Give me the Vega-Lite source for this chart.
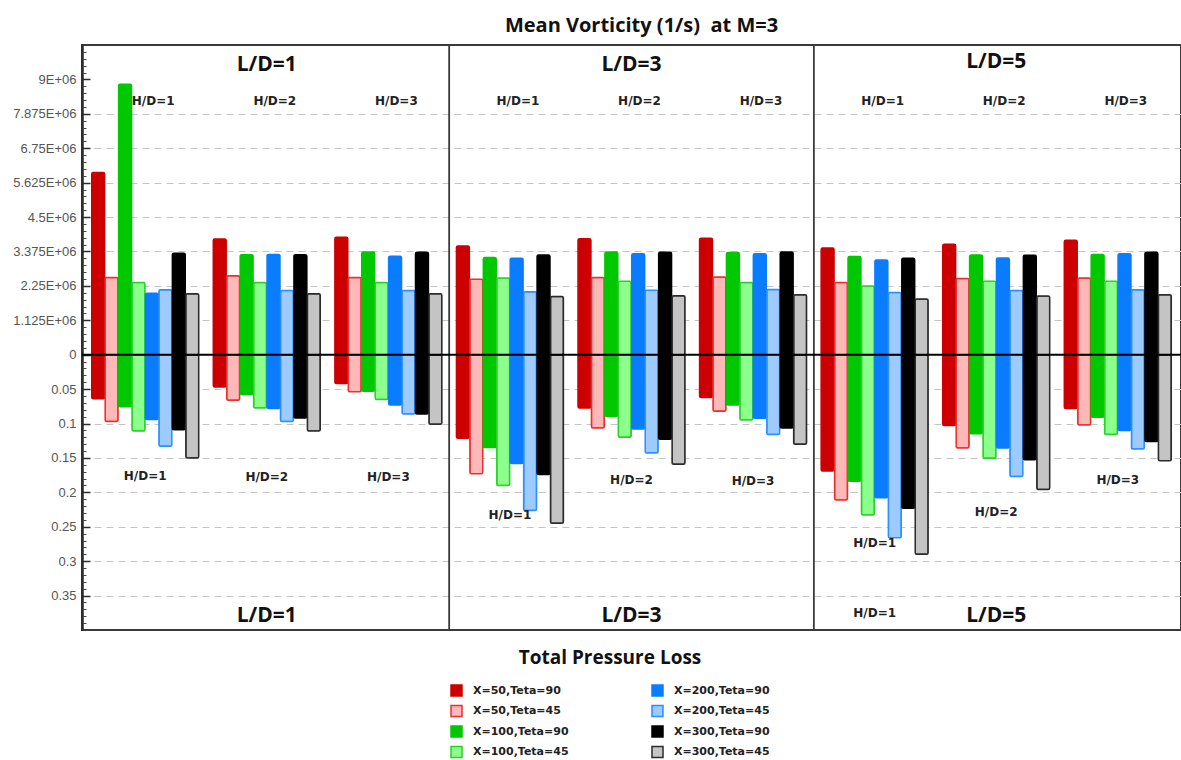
{
  "$schema": "https://vega.github.io/schema/vega-lite/v6.json",
  "autosize": {"type": "none"},
  "width": 1099,
  "height": 585,
  "padding": {"left": 82, "top": 45, "right": 0, "bottom": 130},
  "background": "white",
  "config": {
    "view": {"stroke": "#3a3a3a", "strokeWidth": 2},
    "font": "Liberation Sans"
  },
  "title": {
    "text": "Mean Vorticity (1/s)\u00a0 at M=3",
    "font": "Open Sans", "fontSize": 20, "fontWeight": "bold", "color": "#111",
    "anchor": "middle", "frame": "group", "dx": 10, "offset": 8
  },
  "datasets": {
    "bars": [
      {"grp": "L/D=1 H/D=1", "series": "X=50,Teta=90", "vort": 5960000, "loss": 0.064},
      {"grp": "L/D=1 H/D=1", "series": "X=50,Teta=45", "vort": 2520000, "loss": 0.097},
      {"grp": "L/D=1 H/D=1", "series": "X=100,Teta=90", "vort": 8840000, "loss": 0.0755},
      {"grp": "L/D=1 H/D=1", "series": "X=100,Teta=45", "vort": 2360000, "loss": 0.111},
      {"grp": "L/D=1 H/D=1", "series": "X=200,Teta=90", "vort": 2010000, "loss": 0.094},
      {"grp": "L/D=1 H/D=1", "series": "X=200,Teta=45", "vort": 2120000, "loss": 0.133},
      {"grp": "L/D=1 H/D=1", "series": "X=300,Teta=90", "vort": 3320000, "loss": 0.109},
      {"grp": "L/D=1 H/D=1", "series": "X=300,Teta=45", "vort": 1990000, "loss": 0.150},

      {"grp": "L/D=1 H/D=2", "series": "X=50,Teta=90", "vort": 3780000, "loss": 0.047},
      {"grp": "L/D=1 H/D=2", "series": "X=50,Teta=45", "vort": 2580000, "loss": 0.066},
      {"grp": "L/D=1 H/D=2", "series": "X=100,Teta=90", "vort": 3270000, "loss": 0.058},
      {"grp": "L/D=1 H/D=2", "series": "X=100,Teta=45", "vort": 2360000, "loss": 0.0775},
      {"grp": "L/D=1 H/D=2", "series": "X=200,Teta=90", "vort": 3280000, "loss": 0.078},
      {"grp": "L/D=1 H/D=2", "series": "X=200,Teta=45", "vort": 2100000, "loss": 0.097},
      {"grp": "L/D=1 H/D=2", "series": "X=300,Teta=90", "vort": 3270000, "loss": 0.092},
      {"grp": "L/D=1 H/D=2", "series": "X=300,Teta=45", "vort": 1990000, "loss": 0.111},

      {"grp": "L/D=1 H/D=3", "series": "X=50,Teta=90", "vort": 3840000, "loss": 0.042},
      {"grp": "L/D=1 H/D=3", "series": "X=50,Teta=45", "vort": 2520000, "loss": 0.054},
      {"grp": "L/D=1 H/D=3", "series": "X=100,Teta=90", "vort": 3360000, "loss": 0.053},
      {"grp": "L/D=1 H/D=3", "series": "X=100,Teta=45", "vort": 2360000, "loss": 0.065},
      {"grp": "L/D=1 H/D=3", "series": "X=200,Teta=90", "vort": 3220000, "loss": 0.073},
      {"grp": "L/D=1 H/D=3", "series": "X=200,Teta=45", "vort": 2100000, "loss": 0.086},
      {"grp": "L/D=1 H/D=3", "series": "X=300,Teta=90", "vort": 3350000, "loss": 0.086},
      {"grp": "L/D=1 H/D=3", "series": "X=300,Teta=45", "vort": 1990000, "loss": 0.101},

      {"grp": "L/D=3 H/D=1", "series": "X=50,Teta=90", "vort": 3550000, "loss": 0.1215},
      {"grp": "L/D=3 H/D=1", "series": "X=50,Teta=45", "vort": 2470000, "loss": 0.173},
      {"grp": "L/D=3 H/D=1", "series": "X=100,Teta=90", "vort": 3180000, "loss": 0.135},
      {"grp": "L/D=3 H/D=1", "series": "X=100,Teta=45", "vort": 2510000, "loss": 0.190},
      {"grp": "L/D=3 H/D=1", "series": "X=200,Teta=90", "vort": 3150000, "loss": 0.158},
      {"grp": "L/D=3 H/D=1", "series": "X=200,Teta=45", "vort": 2060000, "loss": 0.2265},
      {"grp": "L/D=3 H/D=1", "series": "X=300,Teta=90", "vort": 3260000, "loss": 0.174},
      {"grp": "L/D=3 H/D=1", "series": "X=300,Teta=45", "vort": 1900000, "loss": 0.245},

      {"grp": "L/D=3 H/D=2", "series": "X=50,Teta=90", "vort": 3790000, "loss": 0.0775},
      {"grp": "L/D=3 H/D=2", "series": "X=50,Teta=45", "vort": 2520000, "loss": 0.1065},
      {"grp": "L/D=3 H/D=2", "series": "X=100,Teta=90", "vort": 3360000, "loss": 0.0896},
      {"grp": "L/D=3 H/D=2", "series": "X=100,Teta=45", "vort": 2400000, "loss": 0.120},
      {"grp": "L/D=3 H/D=2", "series": "X=200,Teta=90", "vort": 3300000, "loss": 0.108},
      {"grp": "L/D=3 H/D=2", "series": "X=200,Teta=45", "vort": 2110000, "loss": 0.143},
      {"grp": "L/D=3 H/D=2", "series": "X=300,Teta=90", "vort": 3350000, "loss": 0.123},
      {"grp": "L/D=3 H/D=2", "series": "X=300,Teta=45", "vort": 1930000, "loss": 0.159},

      {"grp": "L/D=3 H/D=3", "series": "X=50,Teta=90", "vort": 3810000, "loss": 0.062},
      {"grp": "L/D=3 H/D=3", "series": "X=50,Teta=45", "vort": 2540000, "loss": 0.082},
      {"grp": "L/D=3 H/D=3", "series": "X=100,Teta=90", "vort": 3340000, "loss": 0.073},
      {"grp": "L/D=3 H/D=3", "series": "X=100,Teta=45", "vort": 2360000, "loss": 0.095},
      {"grp": "L/D=3 H/D=3", "series": "X=200,Teta=90", "vort": 3300000, "loss": 0.0925},
      {"grp": "L/D=3 H/D=3", "series": "X=200,Teta=45", "vort": 2130000, "loss": 0.116},
      {"grp": "L/D=3 H/D=3", "series": "X=300,Teta=90", "vort": 3360000, "loss": 0.1065},
      {"grp": "L/D=3 H/D=3", "series": "X=300,Teta=45", "vort": 1960000, "loss": 0.130},

      {"grp": "L/D=5 H/D=1", "series": "X=50,Teta=90", "vort": 3490000, "loss": 0.169},
      {"grp": "L/D=5 H/D=1", "series": "X=50,Teta=45", "vort": 2360000, "loss": 0.211},
      {"grp": "L/D=5 H/D=1", "series": "X=100,Teta=90", "vort": 3210000, "loss": 0.184},
      {"grp": "L/D=5 H/D=1", "series": "X=100,Teta=45", "vort": 2250000, "loss": 0.233},
      {"grp": "L/D=5 H/D=1", "series": "X=200,Teta=90", "vort": 3100000, "loss": 0.208},
      {"grp": "L/D=5 H/D=1", "series": "X=200,Teta=45", "vort": 2030000, "loss": 0.266},
      {"grp": "L/D=5 H/D=1", "series": "X=300,Teta=90", "vort": 3150000, "loss": 0.223},
      {"grp": "L/D=5 H/D=1", "series": "X=300,Teta=45", "vort": 1820000, "loss": 0.290},

      {"grp": "L/D=5 H/D=2", "series": "X=50,Teta=90", "vort": 3610000, "loss": 0.103},
      {"grp": "L/D=5 H/D=2", "series": "X=50,Teta=45", "vort": 2490000, "loss": 0.1355},
      {"grp": "L/D=5 H/D=2", "series": "X=100,Teta=90", "vort": 3260000, "loss": 0.115},
      {"grp": "L/D=5 H/D=2", "series": "X=100,Teta=45", "vort": 2400000, "loss": 0.1505},
      {"grp": "L/D=5 H/D=2", "series": "X=200,Teta=90", "vort": 3160000, "loss": 0.1355},
      {"grp": "L/D=5 H/D=2", "series": "X=200,Teta=45", "vort": 2100000, "loss": 0.177},
      {"grp": "L/D=5 H/D=2", "series": "X=300,Teta=90", "vort": 3250000, "loss": 0.1525},
      {"grp": "L/D=5 H/D=2", "series": "X=300,Teta=45", "vort": 1920000, "loss": 0.196},

      {"grp": "L/D=5 H/D=3", "series": "X=50,Teta=90", "vort": 3740000, "loss": 0.078},
      {"grp": "L/D=5 H/D=3", "series": "X=50,Teta=45", "vort": 2510000, "loss": 0.102},
      {"grp": "L/D=5 H/D=3", "series": "X=100,Teta=90", "vort": 3280000, "loss": 0.091},
      {"grp": "L/D=5 H/D=3", "series": "X=100,Teta=45", "vort": 2400000, "loss": 0.116},
      {"grp": "L/D=5 H/D=3", "series": "X=200,Teta=90", "vort": 3300000, "loss": 0.110},
      {"grp": "L/D=5 H/D=3", "series": "X=200,Teta=45", "vort": 2120000, "loss": 0.137},
      {"grp": "L/D=5 H/D=3", "series": "X=300,Teta=90", "vort": 3350000, "loss": 0.126},
      {"grp": "L/D=5 H/D=3", "series": "X=300,Teta=45", "vort": 1960000, "loss": 0.154}
    ],
    "upperPanelLabels": [
      {"grp": "L/D=1 H/D=2", "label": "L/D=1", "v": 9460000},
      {"grp": "L/D=3 H/D=2", "label": "L/D=3", "v": 9460000},
      {"grp": "L/D=5 H/D=2", "label": "L/D=5", "v": 9560000}
    ],
    "upperGroupLabels": [
      {"grp": "L/D=1 H/D=1", "label": "H/D=1", "v": 8310000},
      {"grp": "L/D=1 H/D=2", "label": "H/D=2", "v": 8310000},
      {"grp": "L/D=1 H/D=3", "label": "H/D=3", "v": 8310000},
      {"grp": "L/D=3 H/D=1", "label": "H/D=1", "v": 8310000},
      {"grp": "L/D=3 H/D=2", "label": "H/D=2", "v": 8310000},
      {"grp": "L/D=3 H/D=3", "label": "H/D=3", "v": 8310000},
      {"grp": "L/D=5 H/D=1", "label": "H/D=1", "v": 8310000},
      {"grp": "L/D=5 H/D=2", "label": "H/D=2", "v": 8310000},
      {"grp": "L/D=5 H/D=3", "label": "H/D=3", "v": 8310000}
    ],
    "lowerGroupLabels": [
      {"grp": "L/D=1 H/D=1", "label": "H/D=1", "p": 0.176},
      {"grp": "L/D=1 H/D=2", "label": "H/D=2", "p": 0.177},
      {"grp": "L/D=1 H/D=3", "label": "H/D=3", "p": 0.177},
      {"grp": "L/D=3 H/D=1", "label": "H/D=1", "p": 0.233},
      {"grp": "L/D=3 H/D=2", "label": "H/D=2", "p": 0.182},
      {"grp": "L/D=3 H/D=3", "label": "H/D=3", "p": 0.183},
      {"grp": "L/D=5 H/D=1", "label": "H/D=1", "p": 0.273},
      {"grp": "L/D=5 H/D=2", "label": "H/D=2", "p": 0.228},
      {"grp": "L/D=5 H/D=3", "label": "H/D=3", "p": 0.182},
      {"grp": "L/D=5 H/D=1", "label": "H/D=1", "p": 0.375}
    ],
    "lowerPanelLabels": [
      {"grp": "L/D=1 H/D=2", "label": "L/D=1", "p": 0.379},
      {"grp": "L/D=3 H/D=2", "label": "L/D=3", "p": 0.379},
      {"grp": "L/D=5 H/D=2", "label": "L/D=5", "p": 0.379}
    ],
    "panelStarts": [
      {"grp": "L/D=3 H/D=1"},
      {"grp": "L/D=5 H/D=1"}
    ]
  },
  "layer": [
    {
      "layer": [
        {
          "data": {"name": "bars"},
          "mark": {"type": "bar", "strokeWidth": 1.5, "cornerRadius": 1.5},
          "encoding": {
            "x": {
              "field": "grp", "type": "nominal",
              "scale": {
                "domain": ["L/D=1 H/D=1", "L/D=1 H/D=2", "L/D=1 H/D=3", "L/D=3 H/D=1", "L/D=3 H/D=2", "L/D=3 H/D=3", "L/D=5 H/D=1", "L/D=5 H/D=2", "L/D=5 H/D=3"],
                "paddingInner": 0.12, "paddingOuter": 0.08
              },
              "axis": null
            },
            "xOffset": {
              "field": "series", "type": "nominal",
              "scale": {
                "domain": ["X=50,Teta=90", "X=50,Teta=45", "X=100,Teta=90", "X=100,Teta=45", "X=200,Teta=90", "X=200,Teta=45", "X=300,Teta=90", "X=300,Teta=45"],
                "paddingInner": 0.04
              }
            },
            "y": {
              "field": "vort", "type": "quantitative", "title": null,
              "scale": {"domain": [-9000000, 10125000], "nice": false, "zero": false},
              "axis": {
                "orient": "left",
                "values": [0, 1125000, 2250000, 3375000, 4500000, 5625000, 6750000, 7875000, 9000000],
                "labelExpr": "datum.value == 0 ? '0' : format(datum.value / 1000000, '~g') + 'E+06'",
                "grid": true, "gridDash": [7, 5], "gridColor": "#c4c4c4", "gridWidth": 1,
                "gridOpacity": {"condition": {"test": "datum.value >= 9000000 || datum.value == 0", "value": 0}, "value": 1},
                "domain": true, "domainColor": "#2a2a2a", "domainWidth": 2,
                "ticks": true, "tickSize": -8, "tickColor": "#2a2a2a", "tickWidth": 1.5,
                "labelFont": "Liberation Sans", "labelFontSize": 13, "labelColor": "#555",
                "labelPadding": 14
              }
            },
            "fill": {
              "field": "series", "type": "nominal",
              "scale": {
                "domain": ["X=50,Teta=90", "X=50,Teta=45", "X=100,Teta=90", "X=100,Teta=45", "X=200,Teta=90", "X=200,Teta=45", "X=300,Teta=90", "X=300,Teta=45"],
                "range": ["#cc0000", "#ffb8b8", "#00c800", "#8cff8c", "#0a7cff", "#9ecbff", "#000000", "#c4c4c4"]
              },
              "legend": {
                "orient": "none", "legendX": 368, "legendY": 604, "columns": 2,
                "title": "Total Pressure Loss", "titleFont": "Open Sans", "titleFontSize": 19, "titleFontWeight": "bold",
                "titleColor": "#111", "titleAnchor": "middle", "titlePadding": 16, "titleLimit": 400,
                "symbolType": "square", "symbolSize": 121, "symbolStrokeWidth": 1.5, "symbolOpacity": 1,
                "labelFont": "DejaVu Sans", "labelFontWeight": "bold", "labelFontSize": 11, "labelColor": "#222",
                "labelOffset": 10, "labelLimit": 200, "rowPadding": 3.5, "columnPadding": 80
              }
            },
            "stroke": {
              "field": "series", "type": "nominal",
              "scale": {
                "domain": ["X=50,Teta=90", "X=50,Teta=45", "X=100,Teta=90", "X=100,Teta=45", "X=200,Teta=90", "X=200,Teta=45", "X=300,Teta=90", "X=300,Teta=45"],
                "range": ["#cc0000", "#e83030", "#00c800", "#2ccf2c", "#0a7cff", "#2b8fff", "#000000", "#2b2b2b"]
              },
              "legend": {
                "orient": "none", "legendX": 368, "legendY": 604, "columns": 2,
                "title": "Total Pressure Loss", "titleFont": "Open Sans", "titleFontSize": 19, "titleFontWeight": "bold",
                "titleColor": "#111", "titleAnchor": "middle", "titlePadding": 16, "titleLimit": 400,
                "symbolType": "square", "symbolSize": 121, "symbolStrokeWidth": 1.5, "symbolOpacity": 1,
                "labelFont": "DejaVu Sans", "labelFontWeight": "bold", "labelFontSize": 11, "labelColor": "#222",
                "labelOffset": 10, "labelLimit": 200, "rowPadding": 3.5, "columnPadding": 80
              }
            }
          }
        },
        {
          "data": {"name": "upperPanelLabels"},
          "mark": {"type": "text", "font": "Open Sans", "fontSize": 21, "fontWeight": "bold", "color": "#111"},
          "encoding": {
            "x": {"field": "grp", "type": "nominal"},
            "y": {"field": "v", "type": "quantitative", "title": null},
            "text": {"field": "label"}
          }
        },
        {
          "data": {"name": "upperGroupLabels"},
          "mark": {"type": "text", "font": "DejaVu Sans", "fontSize": 12, "fontWeight": "bold", "color": "#222", "dx": 8},
          "encoding": {
            "x": {"field": "grp", "type": "nominal"},
            "y": {"field": "v", "type": "quantitative", "title": null},
            "text": {"field": "label"}
          }
        }
      ]
    },
    {
      "layer": [
        {
          "data": {"name": "bars"},
          "mark": {"type": "bar", "strokeWidth": 1.5, "cornerRadius": 1.5},
          "encoding": {
            "x": {
              "field": "grp", "type": "nominal",
              "scale": {
                "domain": ["L/D=1 H/D=1", "L/D=1 H/D=2", "L/D=1 H/D=3", "L/D=3 H/D=1", "L/D=3 H/D=2", "L/D=3 H/D=3", "L/D=5 H/D=1", "L/D=5 H/D=2", "L/D=5 H/D=3"],
                "paddingInner": 0.12, "paddingOuter": 0.08
              },
              "axis": null
            },
            "xOffset": {
              "field": "series", "type": "nominal",
              "scale": {
                "domain": ["X=50,Teta=90", "X=50,Teta=45", "X=100,Teta=90", "X=100,Teta=45", "X=200,Teta=90", "X=200,Teta=45", "X=300,Teta=90", "X=300,Teta=45"],
                "paddingInner": 0.04
              }
            },
            "y": {
              "field": "loss", "type": "quantitative", "title": null,
              "scale": {"domain": [-0.45, 0.4], "reverse": true, "nice": false, "zero": false},
              "axis": {
                "orient": "left",
                "values": [0.05, 0.1, 0.15, 0.2, 0.25, 0.3, 0.35],
                "format": "~g",
                "grid": true, "gridDash": [7, 5], "gridColor": "#c4c4c4", "gridWidth": 1,
                "domain": true, "domainColor": "#2a2a2a", "domainWidth": 2,
                "ticks": true, "tickSize": -8, "tickColor": "#2a2a2a", "tickWidth": 1.5,
                "labelFont": "Liberation Sans", "labelFontSize": 13, "labelColor": "#555",
                "labelPadding": 14
              }
            },
            "fill": {
              "field": "series", "type": "nominal",
              "scale": {
                "domain": ["X=50,Teta=90", "X=50,Teta=45", "X=100,Teta=90", "X=100,Teta=45", "X=200,Teta=90", "X=200,Teta=45", "X=300,Teta=90", "X=300,Teta=45"],
                "range": ["#cc0000", "#ffb8b8", "#00c800", "#8cff8c", "#0a7cff", "#9ecbff", "#000000", "#c4c4c4"]
              },
              "legend": {
                "orient": "none", "legendX": 368, "legendY": 604, "columns": 2,
                "title": "Total Pressure Loss", "titleFont": "Open Sans", "titleFontSize": 19, "titleFontWeight": "bold",
                "titleColor": "#111", "titleAnchor": "middle", "titlePadding": 16, "titleLimit": 400,
                "symbolType": "square", "symbolSize": 121, "symbolStrokeWidth": 1.5, "symbolOpacity": 1,
                "labelFont": "DejaVu Sans", "labelFontWeight": "bold", "labelFontSize": 11, "labelColor": "#222",
                "labelOffset": 10, "labelLimit": 200, "rowPadding": 3.5, "columnPadding": 80
              }
            },
            "stroke": {
              "field": "series", "type": "nominal",
              "scale": {
                "domain": ["X=50,Teta=90", "X=50,Teta=45", "X=100,Teta=90", "X=100,Teta=45", "X=200,Teta=90", "X=200,Teta=45", "X=300,Teta=90", "X=300,Teta=45"],
                "range": ["#cc0000", "#e83030", "#00c800", "#2ccf2c", "#0a7cff", "#2b8fff", "#000000", "#2b2b2b"]
              },
              "legend": {
                "orient": "none", "legendX": 368, "legendY": 604, "columns": 2,
                "title": "Total Pressure Loss", "titleFont": "Open Sans", "titleFontSize": 19, "titleFontWeight": "bold",
                "titleColor": "#111", "titleAnchor": "middle", "titlePadding": 16, "titleLimit": 400,
                "symbolType": "square", "symbolSize": 121, "symbolStrokeWidth": 1.5, "symbolOpacity": 1,
                "labelFont": "DejaVu Sans", "labelFontWeight": "bold", "labelFontSize": 11, "labelColor": "#222",
                "labelOffset": 10, "labelLimit": 200, "rowPadding": 3.5, "columnPadding": 80
              }
            }
          }
        },
        {
          "data": {"name": "lowerGroupLabels"},
          "mark": {"type": "text", "font": "DejaVu Sans", "fontSize": 12, "fontWeight": "bold", "color": "#222"},
          "encoding": {
            "x": {"field": "grp", "type": "nominal"},
            "y": {"field": "p", "type": "quantitative", "title": null},
            "text": {"field": "label"}
          }
        },
        {
          "data": {"name": "lowerPanelLabels"},
          "mark": {"type": "text", "font": "Open Sans", "fontSize": 21, "fontWeight": "bold", "color": "#111"},
          "encoding": {
            "x": {"field": "grp", "type": "nominal"},
            "y": {"field": "p", "type": "quantitative", "title": null},
            "text": {"field": "label"}
          }
        },
        {
          "data": {"name": "panelStarts"},
          "mark": {"type": "rule", "color": "#3a3a3a", "strokeWidth": 1.8},
          "encoding": {
            "x": {"field": "grp", "type": "nominal", "bandPosition": -0.068}
          }
        }
      ]
    },
    {
      "data": {"values": [{"base": 0}]},
      "mark": {"type": "rule", "color": "#000", "strokeWidth": 2},
      "encoding": {
        "y": {
          "field": "base", "type": "quantitative", "title": null,
          "scale": {"domain": [-0.45, 0.4], "reverse": true, "nice": false, "zero": false},
          "axis": {
            "orient": "left", "labels": false, "grid": false, "domain": false,
            "ticks": true, "tickSize": -4, "tickColor": "#444", "tickWidth": 1,
            "values": [-0.44, -0.43, -0.42, -0.41, -0.39, -0.38, -0.37, -0.36, -0.34, -0.33, -0.32, -0.31, -0.29, -0.28, -0.27, -0.26, -0.24, -0.23, -0.22, -0.21, -0.19, -0.18, -0.17, -0.16, -0.14, -0.13, -0.12, -0.11, -0.09, -0.08, -0.07, -0.06, -0.04, -0.03, -0.02, -0.01, 0.01, 0.02, 0.03, 0.04, 0.06, 0.07, 0.08, 0.09, 0.11, 0.12, 0.13, 0.14, 0.16, 0.17, 0.18, 0.19, 0.21, 0.22, 0.23, 0.24, 0.26, 0.27, 0.28, 0.29, 0.31, 0.32, 0.33, 0.34, 0.36, 0.37, 0.38, 0.39]
          }
        }
      }
    }
  ],
  "resolve": {"scale": {"y": "independent"}, "axis": {"y": "independent"}}
}
